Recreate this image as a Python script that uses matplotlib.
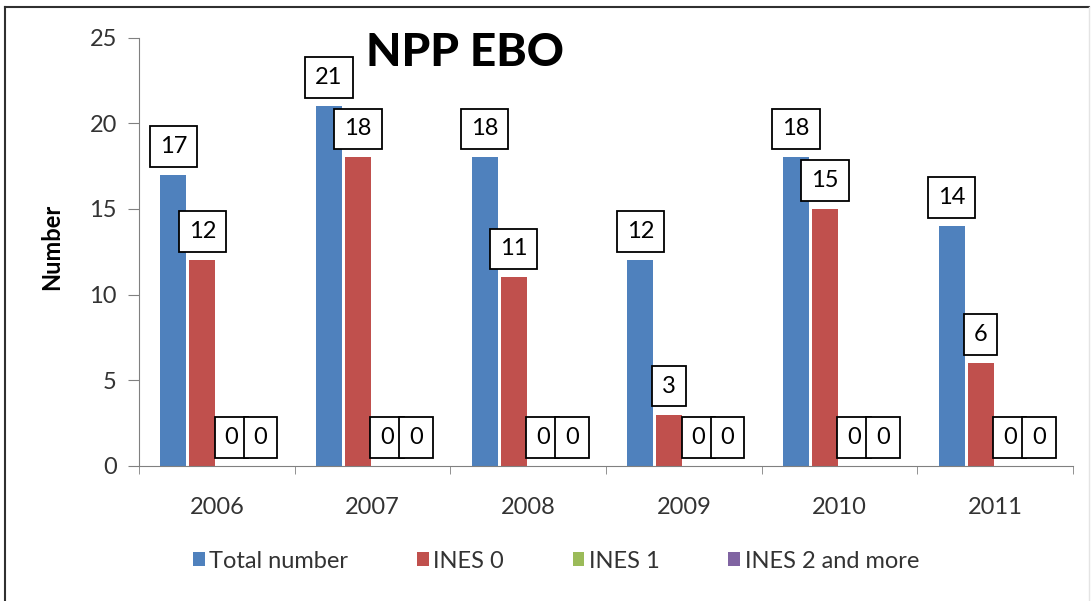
import numpy as np
import matplotlib.pyplot as plt
from matplotlib.lines import Line2D

plt.rcParams['font.family'] = ['Lato', 'DejaVu Sans']

# data
years = ['2006', '2007', '2008', '2009', '2010', '2011']
total_number = [17, 21, 18, 12, 18, 14]
ines_0 = [12, 18, 11, 3, 15, 6]
ines_1 = [0, 0, 0, 0, 0, 0]
ines_2_more = [0, 0, 0, 0, 0, 0]

series = [
    ('Total number', total_number, '#4F81BD'),
    ('INES 0', ines_0, '#C0504D'),
    ('INES 1', ines_1, '#9BBB59'),
    ('INES 2 and more', ines_2_more, '#8064A2'),
]

W, H = 1091, 601
fig = plt.figure(figsize=(W / 100, H / 100), dpi=100)
ax = fig.add_axes([139 / W, 1 - 466 / H, 934 / W, 428.5 / H])

# frame around the chart (left + top dark, right faint)
fig.lines.append(Line2D([5 / W, 5 / W], [0, 1 - 7 / H], transform=fig.transFigure,
                        color='#303030', linewidth=1.5))
fig.lines.append(Line2D([5 / W, 1089 / W], [1 - 7 / H, 1 - 7 / H], transform=fig.transFigure,
                        color='#303030', linewidth=1.5))
fig.lines.append(Line2D([1089 / W, 1089 / W], [0, 1 - 7 / H], transform=fig.transFigure,
                        color='#e4e4e4', linewidth=1.0))

x = np.arange(len(years))
step = 0.1865
width = 0.167
handles = []
for i, (name, vals, col) in enumerate(series):
    pos = x + (i - 1.5) * step
    b = ax.bar(pos, vals, width, color=col, label=name)
    handles.append(b)
    for px, v in zip(pos, vals):
        ax.annotate(str(v), (px, v), xytext=(0, 18), textcoords='offset pixels',
                    ha='center', va='bottom', fontsize=17,
                    bbox=dict(boxstyle='square,pad=0.42', facecolor='white',
                              edgecolor='black', linewidth=1.3))

ax.set_xlim(-0.5, len(years) - 0.5)
ax.set_ylim(0, 25)
ax.set_yticks([0, 5, 10, 15, 20, 25])
ax.set_xticks(x)
ax.set_xticklabels(years)
ax.set_xticks(np.arange(-0.5, len(years)), minor=True)
ax.tick_params(axis='x', which='major', length=0, pad=22, labelsize=17, labelcolor='#333333')
ax.tick_params(axis='x', which='minor', length=6, color='#808080')
ax.tick_params(axis='y', length=8, color='#808080', labelsize=17, labelcolor='#333333', pad=8)
for s in ['top', 'right']:
    ax.spines[s].set_visible(False)
for s in ['left', 'bottom']:
    ax.spines[s].set_color('#808080')

fig.text(52 / W, 1 - 247 / H, 'Number', fontsize=17, fontweight='bold',
         rotation=90, ha='center', va='center')

fig.text(465 / W, 1 - 53 / H, 'NPP EBO', fontsize=33, fontweight='black',
         ha='center', va='center')

fig.legend(handles=handles, loc='center', bbox_to_anchor=(556 / W, 40 / H),
           ncol=4, frameon=False, fontsize=17, handlelength=0.5, handleheight=0.5,
           handletextpad=0.2, columnspacing=2.9, labelcolor='#333333')

fig.savefig('out.png', dpi=100)
